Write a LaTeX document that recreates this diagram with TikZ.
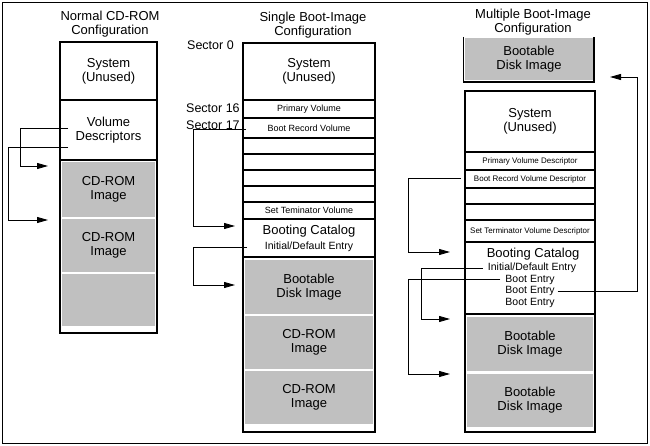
\documentclass[tikz,border=0pt]{standalone}
\usepackage{fontspec}
\setmainfont{Liberation Sans}
\usetikzlibrary{arrows.meta}
\definecolor{diskgray}{RGB}{192,192,192}

\begin{document}
\begin{tikzpicture}[x=1pt, y=-1pt,
    cell/.style={rectangle, draw, line width=1.6pt, inner sep=0pt, align=center, font=\fontsize{13}{14}\selectfont},
    disk/.style={rectangle, fill=diskgray, inner sep=0pt, align=center, font=\fontsize{13}{14}\selectfont},
    smalltext/.style={font=\fontsize{9}{10}\selectfont},
    tinytext/.style={font=\fontsize{8}{9}\selectfont},
    entry/.style={inner sep=0pt, font=\fontsize{10.5}{12}\selectfont},
    heading/.style={inner sep=0pt, align=center, font=\fontsize{13}{14}\selectfont},
    link/.style={line width=0.8pt, -{Triangle[length=11pt,width=6pt]}}]

    \useasboundingbox (0,0) rectangle (650,446);
    \draw[line width=1.5pt] (2.5,2.5) rectangle (647.5,443.5);

    % Normal CD-ROM
    \node (t1) [heading] at (110,24) {Normal CD-ROM\\Configuration};
    \node (c1sys) [cell, minimum width=97pt, minimum height=58pt] at (108.5,71) {System\\(Unused)};
    \node (c1vol) [cell, minimum width=97pt, minimum height=60pt] at (108.5,130) {Volume\\Descriptors};
    \node (c1img) [cell, minimum width=97pt, minimum height=173pt] at (108.5,246.5) {};
    \node (c1cd1) [disk, minimum width=93pt, minimum height=55pt] at (108.5,189.5) {CD-ROM\\Image};
    \node (c1cd2) [disk, minimum width=93pt, minimum height=53pt] at (108.5,245.5) {CD-ROM\\Image};
    \node (c1cd3) [disk, minimum width=93pt, minimum height=52pt] at (108.5,300) {};

    \coordinate (c1b1) at (20,166);
    \coordinate (c1in1) at (48,166);
    \coordinate (c1b2) at (8,220);
    \coordinate (c1in2) at (48,220);
    \draw[link] ([xshift=9pt,yshift=2pt]c1vol.west) -| (c1b1) -- (c1in1);
    \draw[link] ([xshift=9pt,yshift=-17pt]c1vol.west) -| (c1b2) -- (c1in2);

    % Single Boot-Image
    \node (t2) [heading] at (313,25) {Single Boot-Image\\Configuration};
    \node (sec0) [anchor=west, inner sep=0pt, font=\fontsize{12.5}{13}\selectfont] at (187,45) {Sector 0};
    \node (sec16) [anchor=west, inner sep=0pt, font=\fontsize{12.5}{13}\selectfont] at (186,108) {Sector 16};
    \node (sec17) [anchor=west, inner sep=0pt, font=\fontsize{12.5}{13}\selectfont] at (186,125) {Sector 17};

    \node (c2sys) [cell, minimum width=132pt, minimum height=57pt] at (309,71.5) {System\\(Unused)};
    \node (c2pvd) [cell, smalltext, minimum width=132pt, minimum height=18pt] at (309,109) {Primary Volume};
    \node (c2brv) [cell, smalltext, minimum width=132pt, minimum height=20pt] at (309,128) {Boot Record Volume};
    \foreach \y [count=\i] in {146,162,178,194}
        \node (c2e\i) [cell, minimum width=132pt, minimum height=16pt] at (309,\y) {};
    \node (c2term) [cell, smalltext, minimum width=132pt, minimum height=17pt] at (309,210.5) {Set Teminator Volume};
    \node (c2cat) [cell, minimum width=132pt, minimum height=38pt] at (309,238) {};
    \node (c2cattitle) [heading] at (309,231) {Booting Catalog};
    \node (c2init) [entry] at (309,247) {Initial/Default Entry};
    \node (c2img) [cell, minimum width=132pt, minimum height=175pt] at (309,344.5) {};
    \node (c2boot) [disk, minimum width=128pt, minimum height=54pt] at (309,287) {Bootable\\Disk Image};
    \node (c2cd1) [disk, minimum width=128pt, minimum height=53pt] at (309,342.5) {CD-ROM\\Image};
    \node (c2cd2) [disk, minimum width=128pt, minimum height=53pt] at (309,397.5) {CD-ROM\\Image};

    \coordinate (c2b1) at (193,226);
    \coordinate (c2in1) at (235,226);
    \coordinate (c2b2) at (193,285);
    \coordinate (c2in2) at (235,285);
    \draw[link] ([xshift=4pt,yshift=-1pt]c2brv.west) -| (c2b1) -- (c2in1);
    \draw[link] ([xshift=5pt,yshift=-9pt]c2cat.west) -| (c2b2) -- (c2in2);

    % Multiple Boot-Image
    \node (t3) [heading] at (533,22) {Multiple Boot-Image\\Configuration};
    \node (c3top) [disk, minimum width=128pt, minimum height=42pt] at (529,59) {Bootable\\Disk Image};
    \draw[line width=1.6pt] (463.5,37) -- (463.5,82) -- (594,82) -- (594,37);

    \node (c3sys) [cell, minimum width=130pt, minimum height=61pt] at (530,121.5) {System\\(Unused)};
    \node (c3pvd) [cell, tinytext, minimum width=130pt, minimum height=18pt] at (530,161) {Primary Volume Descriptor};
    \node (c3brv) [cell, tinytext, minimum width=130pt, minimum height=18pt] at (530,179) {Boot Record Volume Descriptor};
    \foreach \y [count=\i] in {196,212}
        \node (c3e\i) [cell, minimum width=130pt, minimum height=16pt] at (530,\y) {};
    \node (c3term) [cell, tinytext, minimum width=130pt, minimum height=22pt] at (530,231) {Set Terminator Volume Descriptor};
    \node (c3cat) [cell, minimum width=130pt, minimum height=72pt] at (530,278) {};
    \node (c3cattitle) [heading] at (533,254) {Booting Catalog};
    \node (c3init) [entry] at (532,268) {Initial/Default Entry};
    \node (c3be1) [entry] at (530,279.5) {Boot Entry};
    \node (c3be2) [entry] at (530,291) {Boot Entry};
    \node (c3be3) [entry] at (530,302.5) {Boot Entry};
    \node (c3img) [cell, minimum width=130pt, minimum height=118pt] at (530,373) {};
    \node (c3boot1) [disk, minimum width=126pt, minimum height=54pt] at (530,344) {Bootable\\Disk Image};
    \node (c3boot2) [disk, minimum width=126pt, minimum height=53pt] at (530,400.5) {Bootable\\Disk Image};

    \coordinate (c3b1) at (408,252);
    \coordinate (c3in1) at (450,252);
    \coordinate (c3b2) at (421,319);
    \coordinate (c3in2) at (450,319);
    \coordinate (c3b3) at (408,374);
    \coordinate (c3in3) at (450,374);
    \coordinate (c3b4) at (637,77);
    \coordinate (c3in4) at (610,77);
    \draw[link] ([xshift=-3pt,yshift=1pt]c3brv.west) -| (c3b1) -- (c3in1);
    \draw[link] ([xshift=-5pt]c3init.west) -| (c3b2) -- (c3in2);
    \draw[link] ([xshift=-5pt]c3be1.west) -| (c3b3) -- (c3in3);
    \draw[link] ([xshift=3pt]c3be2.east) -| (c3b4) -- (c3in4);

\end{tikzpicture}
\end{document}
